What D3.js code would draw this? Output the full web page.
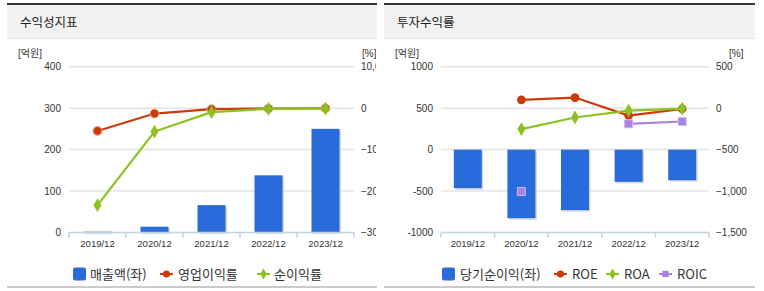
<!DOCTYPE html>
<html lang="ko">
  <head>
    <meta charset="UTF-8" />
    <script src="https://d3js.org/d3.v7.min.js"></script>
    <style>
      body { margin: 0; background: #fff; }
      text { font-family: "Noto Sans CJK KR", "Noto Sans", sans-serif; fill: #333; }
      .tick-label { font-family: "Liberation Sans", "Noto Sans CJK KR", sans-serif; font-size: 10px; }
      .x-label { font-family: "Liberation Sans", "Noto Sans CJK KR", sans-serif; font-size: 9.5px; }
      .unit-label { font-family: "Liberation Sans", "Noto Sans CJK KR", sans-serif; font-size: 10px; }
      .legend-text { font-size: 13px; }
      .title { font-size: 12.5px; fill: #222; }
    </style>
    <title>수익성지표 / 투자수익률</title>
  </head>
  <body>
    <svg id="chart" width="764" height="291"></svg>
    <script>
      // data
      const years = ["2019/12", "2020/12", "2021/12", "2022/12", "2023/12"];

      // 수익성지표
      const sales = [2, 14, 66, 138, 250];
      const opMargin = [-5500, -1300, -240, -100, -20];
      const netMargin = [-23400, -5650, -970, -170, -100];
      const salesTicks = [0, 100, 200, 300, 400];
      const marginTicks = [-30000, -20000, -10000, 0, 10000];

      // 투자수익률
      const netIncome = [-465, -827, -730, -389, -369];
      const roe = [null, 100, 128, -89, -8];
      const roa = [null, -253, -113, -29, -5];
      const roic = [null, -1005, null, -189, -161];
      const incomeTicks = [-1000, -500, 0, 500, 1000];
      const rateTicks = [-1500, -1000, -500, 0, 500];

      const BLUE = "#2a6bdc";
      const RED = "#cc3a0a";
      const GREEN = "#8cc220";
      const PURPLE = "#a883e0";

      const svg = d3.select("#chart");
      const comma = d3.format(",");

      function drawPanel(cfg) {
        const g = svg.append("g");
        const x0 = cfg.left, x1 = cfg.right;

        // frame
        g.append("rect").attr("x", x0).attr("y", 3).attr("width", x1 - x0).attr("height", 2).attr("fill", "#333");
        g.append("rect").attr("x", x0).attr("y", 5).attr("width", x1 - x0).attr("height", 33).attr("fill", "#f2f2f2");
        g.append("rect").attr("x", x0).attr("y", 38).attr("width", x1 - x0).attr("height", 1).attr("fill", "#e2e2e2");
        g.append("rect").attr("x", x0).attr("y", 286).attr("width", x1 - x0).attr("height", 2).attr("fill", "#cacaca");
        g.append("text").attr("class", "title").attr("x", x0 + 13).attr("y", 27).text(cfg.title);

        const clipId = "clip" + cfg.id;
        svg.append("clipPath").attr("id", clipId)
          .append("rect").attr("x", x0).attr("y", 0).attr("width", x1 - x0 - 1).attr("height", 291);
        const plot = g.append("g").attr("clip-path", `url(#${clipId})`);

        const x = d3.scaleBand().domain(years).range([cfg.plotL, cfg.plotR]);
        const yL = d3.scaleLinear().domain(d3.extent(cfg.leftTicks)).range([232.5, 66.7]);
        const yR = d3.scaleLinear().domain(d3.extent(cfg.rightTicks)).range([232.5, 66.7]);

        // gridlines
        plot.selectAll("line.grid").data(cfg.leftTicks.filter(t => t !== cfg.leftTicks[0])).join("line")
          .attr("x1", cfg.plotL).attr("x2", cfg.plotR)
          .attr("y1", d => yL(d)).attr("y2", d => yL(d))
          .attr("stroke", "#e4e4e4").attr("stroke-width", 1.5);

        // left axis labels
        plot.selectAll("text.yl").data(cfg.leftTicks).join("text")
          .attr("class", "tick-label").attr("text-anchor", "end")
          .attr("x", cfg.plotL - 8).attr("y", d => yL(d)).attr("dy", "0.35em").text(d => d);
        plot.append("text").attr("class", "unit-label").attr("x", cfg.unitL).attr("y", 57).text("[억원]");

        // right axis labels
        plot.selectAll("text.yr").data(cfg.rightTicks).join("text")
          .attr("class", "tick-label")
          .attr("x", cfg.plotR + 7).attr("y", d => yR(d)).attr("dy", "0.35em").text(d => comma(d));
        plot.append("text").attr("class", "unit-label").attr("x", cfg.unitR).attr("y", 57).text("[%]");

        // bars with faint shadow
        const bw = 28;
        const barTop = d => Math.min(yL(d), yL(0));
        const barH = d => Math.max(Math.abs(yL(d) - yL(0)), 1);
        plot.selectAll("rect.shadow").data(cfg.bars).join("rect")
          .attr("x", (d, i) => x(years[i]) + x.bandwidth() / 2 - bw / 2 + 1.5)
          .attr("y", d => barTop(d) + 1.5)
          .attr("width", bw).attr("height", barH)
          .attr("fill", "#d8d8d8");
        plot.selectAll("rect.bar").data(cfg.bars).join("rect")
          .attr("x", (d, i) => x(years[i]) + x.bandwidth() / 2 - bw / 2)
          .attr("y", barTop)
          .attr("width", bw).attr("height", barH)
          .attr("fill", BLUE);

        // x axis
        const axisY = yL(cfg.leftTicks[0]);
        plot.append("line").attr("x1", cfg.plotL).attr("x2", cfg.plotR)
          .attr("y1", axisY).attr("y2", axisY).attr("stroke", "#c5d2e0").attr("stroke-width", 1.5);
        const edges = years.map(y => x(y)).concat([cfg.plotR]);
        plot.selectAll("line.xtick").data(edges).join("line")
          .attr("x1", d => d).attr("x2", d => d)
          .attr("y1", axisY).attr("y2", axisY + 5)
          .attr("stroke", "#c5d2e0").attr("stroke-width", 1.5);
        plot.selectAll("text.xl").data(years).join("text")
          .attr("class", "x-label").attr("text-anchor", "middle")
          .attr("x", d => x(d) + x.bandwidth() / 2).attr("y", 247).text(d => d);

        // lines
        const cx = i => x(years[i]) + x.bandwidth() / 2;
        cfg.lines.forEach(s => {
          const line = d3.line().defined(d => d != null).x((d, i) => cx(i)).y(d => yR(d));
          plot.append("path").datum(s.values).attr("d", line)
            .attr("fill", "none").attr("stroke", s.color).attr("stroke-width", 2.2);
          const pts = s.values.map((v, i) => ({ v, i })).filter(p => p.v != null);
          plot.selectAll(null).data(pts).join("path")
            .attr("transform", p => `translate(${cx(p.i)},${yR(p.v)})`)
            .attr("d", d3.symbol().type(s.symbol).size(s.size))
            .attr("fill", s.fill || s.color).attr("stroke", s.stroke || "none").attr("stroke-width", 1);
        });

        // legend
        const lg = g.append("g").attr("transform", `translate(0,274)`);
        cfg.legend.forEach(item => {
          if (item.type === "bar") {
            lg.append("rect").attr("x", item.x).attr("y", -6.5).attr("width", 13).attr("height", 13)
              .attr("rx", 2).attr("fill", BLUE);
          } else {
            lg.append("line").attr("x1", item.x).attr("x2", item.x + 13).attr("y1", 0).attr("y2", 0)
              .attr("stroke", item.color).attr("stroke-width", 2);
            lg.append("path").attr("transform", `translate(${item.x + 6.5},0)`)
              .attr("d", d3.symbol().type(item.symbol).size(item.size)).attr("fill", item.color);
          }
          lg.append("text").attr("class", "legend-text").attr("x", item.tx).attr("y", 5).text(item.label);
        });
      }

      drawPanel({
        id: 1, title: "수익성지표", left: 7, right: 377,
        plotL: 69, plotR: 354, unitL: 18, unitR: 362,
        leftTicks: salesTicks, rightTicks: marginTicks,
        bars: sales,
        lines: [
          { values: opMargin, color: RED, symbol: d3.symbolCircle, size: 60, stroke: "#e0a080" },
          { values: netMargin, color: GREEN, symbol: d3.symbolDiamond, size: 55 }
        ],
        legend: [
          { type: "bar", x: 73, tx: 90, label: "매출액(좌)" },
          { type: "line", x: 160, tx: 178, label: "영업이익률", color: RED, symbol: d3.symbolCircle, size: 40 },
          { type: "line", x: 257, tx: 274, label: "순이익률", color: GREEN, symbol: d3.symbolDiamond, size: 36 }
        ]
      });

      drawPanel({
        id: 2, title: "투자수익률", left: 384, right: 755,
        plotL: 441, plotR: 709, unitL: 395, unitR: 729,
        leftTicks: incomeTicks, rightTicks: rateTicks,
        bars: netIncome,
        lines: [
          { values: roe, color: RED, symbol: d3.symbolCircle, size: 60 },
          { values: roa, color: GREEN, symbol: d3.symbolDiamond, size: 55 },
          { values: roic, color: PURPLE, symbol: d3.symbolSquare, size: 64, stroke: "#cdb8f0" }
        ],
        legend: [
          { type: "bar", x: 442, tx: 460, label: "당기순이익(좌)" },
          { type: "line", x: 554, tx: 572, label: "ROE", color: RED, symbol: d3.symbolCircle, size: 40 },
          { type: "line", x: 606, tx: 624, label: "ROA", color: GREEN, symbol: d3.symbolDiamond, size: 36 },
          { type: "line", x: 659, tx: 677, label: "ROIC", color: PURPLE, symbol: d3.symbolSquare, size: 40 }
        ]
      });
    </script>
  </body>
</html>
